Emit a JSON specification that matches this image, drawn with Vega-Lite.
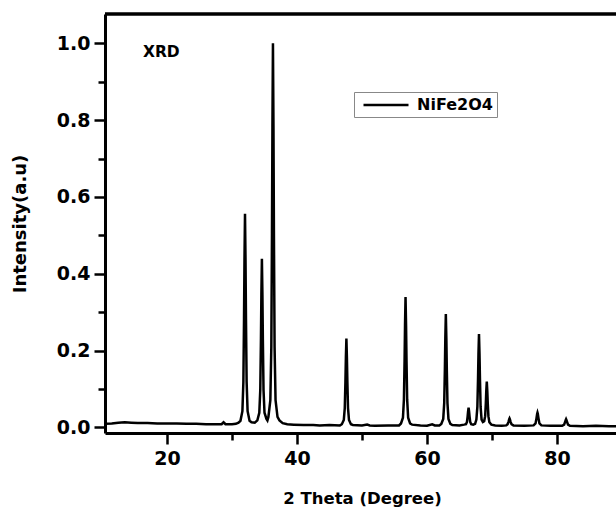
{
  "$schema": "https://vega.github.io/schema/vega-lite/v6.json",
  "width": 511,
  "height": 419,
  "autosize": {"type": "none"},
  "padding": {"left": 105, "top": 14, "right": 0, "bottom": 75},
  "background": "white",
  "config": {"font": "DejaVu Sans", "view": {"stroke": null}},
  "datasets": {
    "xrd": [
    {"t": 10.5, "i": 0.009}, {"t": 11.5, "i": 0.010}, {"t": 12.5, "i": 0.012}, {"t": 13.5, "i": 0.013},
    {"t": 14.5, "i": 0.012}, {"t": 15.5, "i": 0.011}, {"t": 17.0, "i": 0.011}, {"t": 18.5, "i": 0.010},
    {"t": 20.0, "i": 0.010}, {"t": 21.5, "i": 0.010}, {"t": 23.0, "i": 0.009}, {"t": 24.5, "i": 0.009},
    {"t": 26.0, "i": 0.008}, {"t": 27.5, "i": 0.008}, {"t": 28.4, "i": 0.008}, {"t": 28.7, "i": 0.013},
    {"t": 29.0, "i": 0.008}, {"t": 30.0, "i": 0.008}, {"t": 30.6, "i": 0.009},
    {"t": 31.0, "i": 0.012}, {"t": 31.3, "i": 0.017}, {"t": 31.6, "i": 0.042}, {"t": 31.75, "i": 0.118},
    {"t": 31.85, "i": 0.283}, {"t": 31.92, "i": 0.436}, {"t": 32.0, "i": 0.556}, {"t": 32.08, "i": 0.436},
    {"t": 32.15, "i": 0.283}, {"t": 32.25, "i": 0.118}, {"t": 32.4, "i": 0.042}, {"t": 32.7, "i": 0.017},
    {"t": 33.0, "i": 0.013}, {"t": 33.5, "i": 0.012},
    {"t": 33.9, "i": 0.018}, {"t": 34.2, "i": 0.038}, {"t": 34.35, "i": 0.097}, {"t": 34.45, "i": 0.226},
    {"t": 34.52, "i": 0.345}, {"t": 34.6, "i": 0.439}, {"t": 34.68, "i": 0.345}, {"t": 34.75, "i": 0.226},
    {"t": 34.85, "i": 0.097}, {"t": 35.0, "i": 0.038}, {"t": 35.3, "i": 0.022}, {"t": 35.45, "i": 0.018},
    {"t": 35.6, "i": 0.027}, {"t": 35.9, "i": 0.071}, {"t": 36.05, "i": 0.210}, {"t": 36.15, "i": 0.506},
    {"t": 36.22, "i": 0.783}, {"t": 36.3, "i": 1.0}, {"t": 36.38, "i": 0.783}, {"t": 36.45, "i": 0.506},
    {"t": 36.55, "i": 0.210}, {"t": 36.7, "i": 0.071}, {"t": 37.0, "i": 0.027}, {"t": 37.3, "i": 0.018},
    {"t": 37.8, "i": 0.011}, {"t": 38.5, "i": 0.008}, {"t": 39.5, "i": 0.007}, {"t": 41.0, "i": 0.006},
    {"t": 42.5, "i": 0.006}, {"t": 43.5, "i": 0.005}, {"t": 45.0, "i": 0.006}, {"t": 46.6, "i": 0.005},
    {"t": 46.9, "i": 0.008}, {"t": 47.2, "i": 0.019}, {"t": 47.35, "i": 0.050}, {"t": 47.45, "i": 0.118},
    {"t": 47.52, "i": 0.181}, {"t": 47.6, "i": 0.231}, {"t": 47.68, "i": 0.181}, {"t": 47.75, "i": 0.118},
    {"t": 47.85, "i": 0.050}, {"t": 48.0, "i": 0.019}, {"t": 48.3, "i": 0.008}, {"t": 48.6, "i": 0.006},
    {"t": 50.0, "i": 0.005}, {"t": 50.8, "i": 0.007}, {"t": 51.2, "i": 0.005}, {"t": 52.0, "i": 0.004},
    {"t": 54.0, "i": 0.005}, {"t": 55.7, "i": 0.005},
    {"t": 56.0, "i": 0.010}, {"t": 56.3, "i": 0.025}, {"t": 56.45, "i": 0.072}, {"t": 56.55, "i": 0.172},
    {"t": 56.62, "i": 0.266}, {"t": 56.7, "i": 0.339}, {"t": 56.78, "i": 0.266}, {"t": 56.85, "i": 0.172},
    {"t": 56.95, "i": 0.072}, {"t": 57.1, "i": 0.025}, {"t": 57.4, "i": 0.010}, {"t": 57.7, "i": 0.007},
    {"t": 59.0, "i": 0.005}, {"t": 60.0, "i": 0.004}, {"t": 60.8, "i": 0.008}, {"t": 61.2, "i": 0.005},
    {"t": 61.9, "i": 0.005},
    {"t": 62.2, "i": 0.009}, {"t": 62.5, "i": 0.022}, {"t": 62.65, "i": 0.063}, {"t": 62.75, "i": 0.150},
    {"t": 62.82, "i": 0.231}, {"t": 62.9, "i": 0.295}, {"t": 62.98, "i": 0.231}, {"t": 63.05, "i": 0.150},
    {"t": 63.15, "i": 0.063}, {"t": 63.3, "i": 0.022}, {"t": 63.6, "i": 0.009}, {"t": 63.9, "i": 0.006},
    {"t": 65.0, "i": 0.005}, {"t": 65.7, "i": 0.007},
    {"t": 66.0, "i": 0.008}, {"t": 66.15, "i": 0.014}, {"t": 66.25, "i": 0.028}, {"t": 66.32, "i": 0.041},
    {"t": 66.4, "i": 0.051}, {"t": 66.48, "i": 0.041}, {"t": 66.55, "i": 0.028}, {"t": 66.65, "i": 0.014},
    {"t": 66.8, "i": 0.008}, {"t": 67.1, "i": 0.007}, {"t": 67.4, "i": 0.009},
    {"t": 67.6, "i": 0.020}, {"t": 67.75, "i": 0.053}, {"t": 67.85, "i": 0.125}, {"t": 67.92, "i": 0.191},
    {"t": 68.0, "i": 0.243}, {"t": 68.08, "i": 0.191}, {"t": 68.15, "i": 0.125}, {"t": 68.25, "i": 0.053},
    {"t": 68.4, "i": 0.020}, {"t": 68.6, "i": 0.014},
    {"t": 68.8, "i": 0.016}, {"t": 68.95, "i": 0.029}, {"t": 69.05, "i": 0.062}, {"t": 69.12, "i": 0.094},
    {"t": 69.2, "i": 0.119}, {"t": 69.28, "i": 0.094}, {"t": 69.35, "i": 0.062}, {"t": 69.45, "i": 0.029},
    {"t": 69.6, "i": 0.013}, {"t": 69.9, "i": 0.007}, {"t": 70.5, "i": 0.005}, {"t": 71.5, "i": 0.004},
    {"t": 72.2, "i": 0.005},
    {"t": 72.4, "i": 0.008}, {"t": 72.55, "i": 0.015}, {"t": 72.65, "i": 0.021}, {"t": 72.7, "i": 0.023},
    {"t": 72.75, "i": 0.021}, {"t": 72.85, "i": 0.015}, {"t": 73.0, "i": 0.008}, {"t": 73.3, "i": 0.005},
    {"t": 75.0, "i": 0.004}, {"t": 76.4, "i": 0.005},
    {"t": 76.7, "i": 0.010}, {"t": 76.85, "i": 0.024}, {"t": 76.95, "i": 0.035}, {"t": 77.0, "i": 0.038},
    {"t": 77.05, "i": 0.035}, {"t": 77.15, "i": 0.024}, {"t": 77.3, "i": 0.010}, {"t": 77.6, "i": 0.005},
    {"t": 79.0, "i": 0.004}, {"t": 80.8, "i": 0.004},
    {"t": 81.1, "i": 0.007}, {"t": 81.25, "i": 0.014}, {"t": 81.35, "i": 0.019}, {"t": 81.4, "i": 0.021},
    {"t": 81.45, "i": 0.019}, {"t": 81.55, "i": 0.014}, {"t": 81.7, "i": 0.007}, {"t": 82.0, "i": 0.004},
    {"t": 84.0, "i": 0.003}, {"t": 86.0, "i": 0.004}, {"t": 88.0, "i": 0.003}, {"t": 89.6, "i": 0.003}
    ],
    "label": [{"name": "XRD"}]
  },
  "layer": [
    {
      "data": {"name": "xrd"},
      "mark": {"type": "line", "clip": true, "strokeWidth": 2.5, "interpolate": "linear"},
      "encoding": {
        "x": {
          "field": "t", "type": "quantitative",
          "scale": {"domain": [10.46, 89.08], "nice": false, "zero": false},
          "axis": {
            "values": [20, 30, 40, 50, 60, 70, 80],
            "title": "2 Theta (Degree)",
            "labelExpr": "datum.value % 20 == 0 ? datum.label : ''",
            "tickSize": {"condition": {"test": "datum.value % 20 == 10", "value": 7}, "value": 11},
            "tickWidth": 2.5, "tickColor": "black",
            "domainColor": "black", "domainWidth": 3,
            "labelFontSize": 19, "labelFontWeight": "bold", "labelColor": "black",
            "labelPadding": 5, "labelOverlap": false, "labelFlush": false,
            "grid": false,
            "titleFontSize": 16.5, "titleFontWeight": "bold", "titleColor": "black",
            "titleX": 257, "titleY": 70, "titleBaseline": "alphabetic"
          }
        },
        "y": {
          "field": "i", "type": "quantitative",
          "scale": {"domain": [-0.0148, 1.0763], "nice": false, "zero": false},
          "axis": {
            "values": [0, 0.1, 0.2, 0.3, 0.4, 0.5, 0.6, 0.7, 0.8, 0.9, 1.0],
            "title": "Intensity(a.u)",
            "labelExpr": "round(datum.value*10) % 2 == 0 ? format(datum.value, '.1f') : ''",
            "tickSize": {"condition": {"test": "round(datum.value*10) % 2 == 1", "value": 7}, "value": 11},
            "tickWidth": 2.5, "tickColor": "black",
            "domainColor": "black", "domainWidth": 3,
            "labelFontSize": 19, "labelFontWeight": "bold", "labelColor": "black",
            "labelPadding": 4, "labelOverlap": false, "labelFlush": false,
            "grid": false,
            "titleFontSize": 18, "titleFontWeight": "bold", "titleColor": "black",
            "titleX": -80, "titleY": 209.5, "titleBaseline": "alphabetic"
          }
        },
        "color": {
          "datum": "NiFe2O4",
          "scale": {"range": ["black"]},
          "legend": {
            "orient": "none", "legendX": 249, "legendY": 78,
            "title": null, "padding": 4, "strokeColor": "#888888",
            "symbolType": "M-1,0H5", "symbolSize": 225, "symbolStrokeWidth": 2.5,
            "symbolStrokeColor": "black", "symbolFillColor": "transparent",
            "symbolOffset": 4, "labelOffset": 37,
            "labelFontSize": 16, "labelFontWeight": "bold", "labelColor": "black"
          }
        }
      }
    },
    {
      "data": {"name": "label"},
      "mark": {"type": "rule", "strokeWidth": 3.5, "color": "black"},
      "encoding": {"y": {"datum": 1.0763}}
    },
    {
      "data": {"name": "label"},
      "mark": {"type": "text", "align": "left", "baseline": "alphabetic", "fontSize": 15.5, "fontWeight": "bold", "fill": "black"},
      "encoding": {"x": {"datum": 16.3}, "y": {"datum": 0.965}, "text": {"field": "name"}}
    }
  ]
}
